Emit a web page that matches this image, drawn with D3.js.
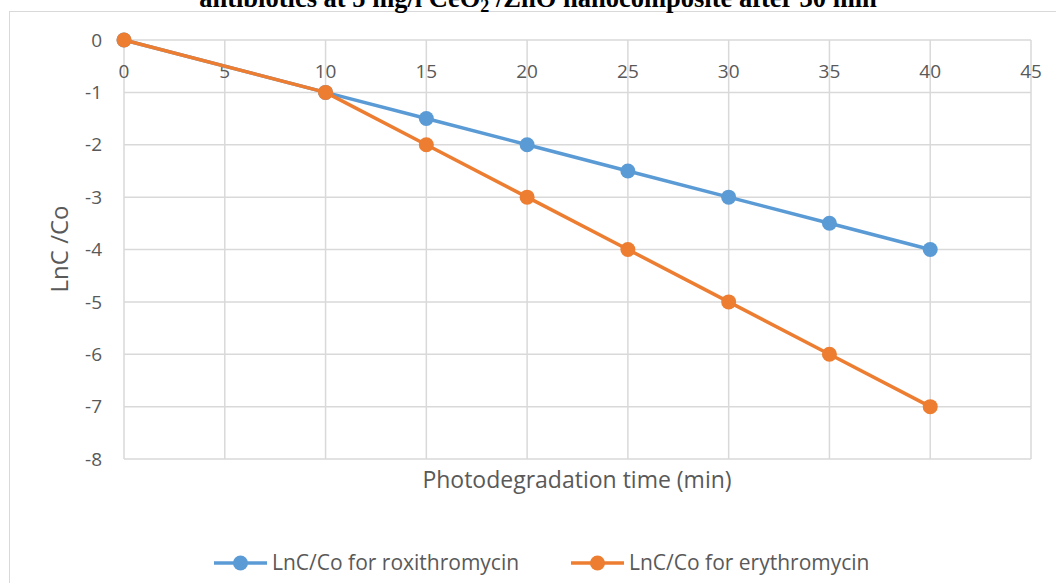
<!DOCTYPE html>
<html>
<head>
<meta charset="utf-8">
<script src="https://cdn.jsdelivr.net/npm/d3@7"></script>
<style>
  body { margin: 0; background: #fff; }
  svg { display: block; }
</style>
</head>
<body>
<div id="chart"></div>
<script>
// data
const times = [0, 10, 15, 20, 25, 30, 35, 40]
const roxithromycin = [0, -1, -1.5, -2, -2.5, -3, -3.5, -4]
const erythromycin = [0, -1, -2, -3, -4, -5, -6, -7]
const xTicks = [0, 5, 10, 15, 20, 25, 30, 35, 40, 45]
const yTicks = [0, -1, -2, -3, -4, -5, -6, -7, -8]
const seriesNames = ["LnC/Co for roxithromycin", "LnC/Co for erythromycin"]

const W = 1056, H = 583
var margin = {top: 40, right: 25, bottom: 124, left: 124}

var svg = d3.select("#chart").append("svg")
  .attr("width", W)
  .attr("height", H)

// chart frame (only top and left show, the rest is cut off)
svg.append("rect")
  .attr("x", 9.5).attr("y", 11.5)
  .attr("width", W + 20).attr("height", H + 20)
  .attr("fill", "#fff")
  .attr("stroke", "#d9d9d9")
  .attr("stroke-width", 1)

x = d3.scaleLinear().domain([0, 45]).range([margin.left, W - margin.right])
y = d3.scaleLinear().domain([-8, 0]).range([H - margin.bottom, margin.top])

const grid = svg.append("g").attr("stroke", "#d9d9d9").attr("stroke-width", 1.5)
grid.selectAll(".vg").data(xTicks).join("line")
  .attr("x1", d => x(d)).attr("x2", d => x(d))
  .attr("y1", y(0)).attr("y2", y(-8))
grid.selectAll(".hg").data(yTicks).join("line")
  .attr("y1", d => y(d)).attr("y2", d => y(d))
  .attr("x1", x(0)).attr("x2", x(45))

const labelFont = "'Open Sans', sans-serif"

// y tick labels
svg.append("g").selectAll("text").data(yTicks).join("text")
  .attr("x", x(0) - 22)
  .attr("y", d => y(d))
  .attr("dy", "0.35em")
  .attr("text-anchor", "end")
  .attr("font-family", labelFont)
  .attr("font-size", 19)
  .attr("fill", "#595959")
  .text(d => d)

// x tick labels sit under the 0 line
svg.append("g").selectAll("text").data(xTicks).join("text")
  .attr("x", d => x(d))
  .attr("y", y(0) + 31)
  .attr("dy", "0.35em")
  .attr("text-anchor", "middle")
  .attr("font-family", labelFont)
  .attr("font-size", 19)
  .attr("fill", "#595959")
  .text(d => d)

// axis titles
svg.append("text")
  .attr("x", 577).attr("y", 488)
  .attr("text-anchor", "middle")
  .attr("font-family", labelFont)
  .attr("font-size", 23)
  .attr("fill", "#595959")
  .text("Photodegradation time (min)")

svg.append("text")
  .attr("transform", "translate(68,249) rotate(-90)")
  .attr("text-anchor", "middle")
  .attr("font-family", labelFont)
  .attr("font-size", 24)
  .attr("fill", "#595959")
  .text("LnC /Co")

// title, top of it is cut off by the page edge
const title = svg.append("text")
  .attr("x", 538).attr("y", 7)
  .attr("text-anchor", "middle")
  .attr("font-family", "'Liberation Serif', 'Times New Roman', serif")
  .attr("font-weight", "bold")
  .attr("font-size", 26.5)
  .attr("fill", "#000")
title.append("tspan").text("antibiotics at 5 mg/l CeO")
title.append("tspan").attr("dy", 5).attr("font-size", 18).text("2")
title.append("tspan").attr("dy", -5).text(" /ZnO nanocomposite after 30 min")

const colors = ["#5b9bd5", "#ed7d31"]
const series = [roxithromycin, erythromycin]

drawLine = d3.line()
  .x((d, i) => x(times[i]))
  .y(d => y(d))

series.forEach((s, k) => {
  svg.append("path")
    .datum(s)
    .attr("fill", "none")
    .attr("stroke", colors[k])
    .attr("stroke-width", 3.5)
    .attr("stroke-linejoin", "round")
    .attr("d", drawLine)
  svg.append("g").selectAll("circle").data(s).join("circle")
    .attr("cx", (d, i) => x(times[i]))
    .attr("cy", d => y(d))
    .attr("r", 7.5)
    .attr("fill", colors[k])
})

// legend
const legX = [214, 571]
const legend = svg.append("g")
seriesNames.forEach((name, k) => {
  const g = legend.append("g").attr("transform", `translate(${legX[k]},563)`)
  g.append("line").attr("x1", 0).attr("x2", 53).attr("y1", 0).attr("y2", 0)
    .attr("stroke", colors[k]).attr("stroke-width", 3.5)
  g.append("circle").attr("cx", 26.5).attr("cy", 0).attr("r", 7.5).attr("fill", colors[k])
  g.append("text").attr("x", 58).attr("y", 0).attr("dy", "0.35em")
    .attr("font-family", labelFont).attr("font-size", 21).attr("fill", "#595959")
    .text(name)
})
</script>
</body>
</html>
